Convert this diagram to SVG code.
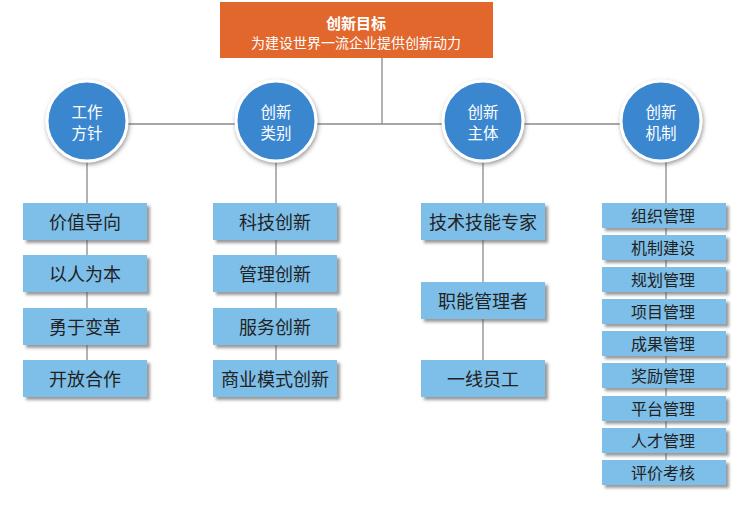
<svg xmlns="http://www.w3.org/2000/svg" width="750" height="505" viewBox="0 0 750 505">
<defs>
<filter id="sh" x="-20%" y="-30%" width="140%" height="170%">
<feDropShadow dx="3" dy="3" stdDeviation="1.5" flood-color="#555" flood-opacity="0.6"/>
</filter>
<filter id="csh" x="-30%" y="-30%" width="160%" height="160%">
<feDropShadow dx="1" dy="2" stdDeviation="2" flood-color="#444" flood-opacity="0.55"/>
</filter>
</defs>
<style>
text{font-family:"Noto Sans CJK SC","Noto Sans",sans-serif;text-anchor:middle;dominant-baseline:central}
.ln{stroke:#8a8a8a;stroke-width:1.3;fill:none}
.bx{fill:#7dbfe9;filter:url(#sh)}
.ci{fill:#3b87cf;stroke:#fff;stroke-width:3;filter:url(#csh)}
.ct{fill:#fff;font-size:15.5px}
.bt{fill:#222;font-size:18px}
.st{fill:#222;font-size:16px}
</style>
<rect width="750" height="505" fill="#fff"/>
<g id="connectors">
<path class="ln" d="M382,58 V124 M87,124 H661 M87,124 V379 M276,124 V379 M483,124 V379 M666,124 V472"/>
</g>
<g id="goal">
<rect x="220" y="2" width="273" height="56" fill="#e2672d"/>
<text x="356" y="22" style="fill:#fff;font-size:15px;font-weight:bold">创新目标</text>
<text x="356" y="42" style="fill:#fff;font-size:14px">为建设世界一流企业提供创新动力</text>
</g>
<g id="c1"><circle class="ci" cx="87" cy="121" r="40"/><text class="ct" x="87" y="111">工作</text><text class="ct" x="87" y="132">方针</text></g>
<g id="c2"><circle class="ci" cx="276" cy="121" r="40"/><text class="ct" x="276" y="111">创新</text><text class="ct" x="276" y="132">类别</text></g>
<g id="c3"><circle class="ci" cx="483" cy="121" r="40"/><text class="ct" x="483" y="111">创新</text><text class="ct" x="483" y="132">主体</text></g>
<g id="c4"><circle class="ci" cx="661" cy="121" r="40"/><text class="ct" x="661" y="111">创新</text><text class="ct" x="661" y="132">机制</text></g>
<g id="a1"><rect class="bx" x="23" y="203" width="124" height="37"/><text class="bt" x="85" y="221">价值导向</text></g>
<g id="a2"><rect class="bx" x="23" y="255" width="124" height="37"/><text class="bt" x="85" y="273">以人为本</text></g>
<g id="a3"><rect class="bx" x="23" y="308" width="124" height="37"/><text class="bt" x="85" y="326">勇于变革</text></g>
<g id="a4"><rect class="bx" x="23" y="360" width="124" height="37"/><text class="bt" x="85" y="378">开放合作</text></g>
<g id="b1"><rect class="bx" x="213" y="203" width="124" height="37"/><text class="bt" x="275" y="221">科技创新</text></g>
<g id="b2"><rect class="bx" x="213" y="255" width="124" height="37"/><text class="bt" x="275" y="273">管理创新</text></g>
<g id="b3"><rect class="bx" x="213" y="308" width="124" height="37"/><text class="bt" x="275" y="326">服务创新</text></g>
<g id="b4"><rect class="bx" x="213" y="360" width="124" height="37"/><text class="bt" x="275" y="378">商业模式创新</text></g>
<g id="d1"><rect class="bx" x="421" y="203" width="124" height="37"/><text class="bt" x="483" y="221">技术技能专家</text></g>
<g id="d2"><rect class="bx" x="421" y="282" width="124" height="37"/><text class="bt" x="483" y="300">职能管理者</text></g>
<g id="d3"><rect class="bx" x="421" y="360" width="124" height="37"/><text class="bt" x="483" y="378">一线员工</text></g>
<g id="e1"><rect class="bx" x="602" y="203" width="124" height="25"/><text class="st" x="663" y="215">组织管理</text></g>
<g id="e2"><rect class="bx" x="602" y="235" width="124" height="25"/><text class="st" x="663" y="247">机制建设</text></g>
<g id="e3"><rect class="bx" x="602" y="267" width="124" height="25"/><text class="st" x="663" y="279">规划管理</text></g>
<g id="e4"><rect class="bx" x="602" y="299" width="124" height="25"/><text class="st" x="663" y="311">项目管理</text></g>
<g id="e5"><rect class="bx" x="602" y="331" width="124" height="25"/><text class="st" x="663" y="343">成果管理</text></g>
<g id="e6"><rect class="bx" x="602" y="363" width="124" height="25"/><text class="st" x="663" y="375">奖励管理</text></g>
<g id="e7"><rect class="bx" x="602" y="396" width="124" height="25"/><text class="st" x="663" y="408">平台管理</text></g>
<g id="e8"><rect class="bx" x="602" y="428" width="124" height="25"/><text class="st" x="663" y="440">人才管理</text></g>
<g id="e9"><rect class="bx" x="602" y="460" width="124" height="25"/><text class="st" x="663" y="472">评价考核</text></g>
</svg>
